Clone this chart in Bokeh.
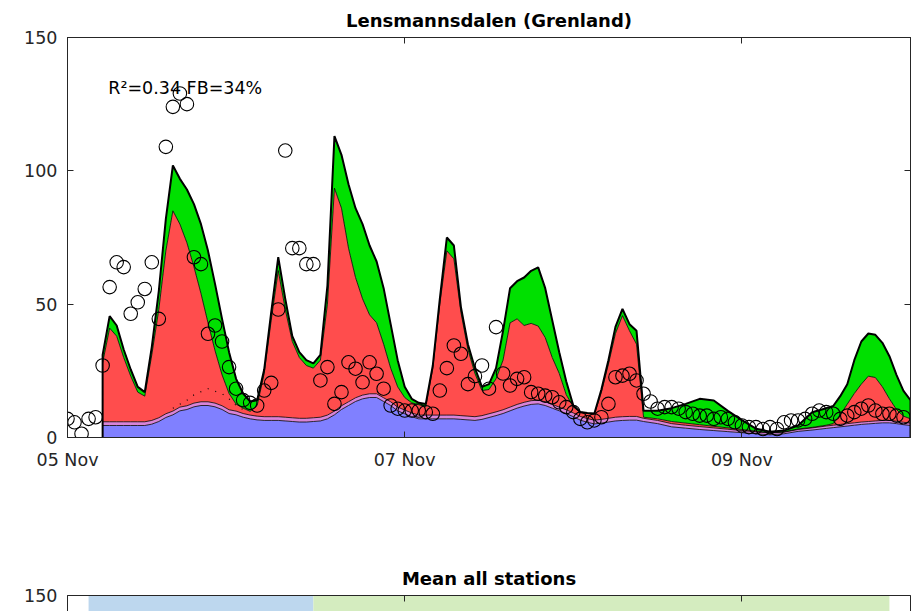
import numpy as np
import pandas as pd
from bokeh.plotting import figure
from bokeh.models import (Range1d, FixedTicker, DatetimeTickFormatter, LinearAxis,
                          DatetimeAxis, Label, ColumnDataSource)
from bokeh.layouts import column
from bokeh.embed import file_html
from bokeh.resources import INLINE

# ---------------- data ----------------
START = "2018-11-05"
tick_dates = ["2018-11-05", "2018-11-07", "2018-11-09"]
y_ticks = [0, 50, 100, 150]

# observations (hourly, hours after 05 Nov 00:00)
obs_hours = list(range(0, 120))
obs_values = [7, 5.7, 1.4, 7, 7.6,
              27, 56.4, 65.7, 63.9, 46.4, 50.7, 55.7, 65.7, 44.5,
              109, 124, 129, 125, 67.6, 65,
              38.9, 42, 36, 26.4, 18.3, 14, 13, 12, 17.6, 20.5,
              48, 107.6, 71, 71, 65, 65, 21.4, 26.4, 12.6, 17,
              28.2, 25.8, 20.7, 28.2, 23.9, 18.3, 12, 10.8, 10.1, 10.1,
              10.1, 9.5, 8.9, 17.6, 26, 34.5, 31.4, 20, 23, 27,
              18.3, 41.4, 24, 19.5, 22, 22.6, 17, 16.4, 15.7, 15.1,
              13.2, 11.4, 9.5, 7, 5.7, 6.4, 7.6, 12.6, 22.6, 23.2,
              23.9, 21.4, 16.4, 13.5, 10.8, 11.4, 11.4, 10.8, 9.5, 8.9,
              8.2, 8.2, 7, 7.6, 7, 5.7, 4.5, 3.9, 3.9, 3.2,
              3.9, 3.2, 5.7, 6.4, 6.4, 7, 8.9, 10.1, 9.5, 8.9,
              7, 8.2, 9.5, 10.8, 12, 10.1, 8.9, 8.9, 8.2, 7.6]

# model (stacked contributions) - boundaries of the stacked layers
model_hours = (list(range(5, 83)) + list(range(84, 109, 2)) + list(range(109, 121)))
blue_top = [4.5, 4.5, 4.5, 4.5, 4.5, 4.5, 4.5,
            5, 6, 7.5, 8.5, 10, 10.5, 11.5, 12, 12,
            11.5, 10.5, 9, 8.5, 7.6, 7, 6.6,
            6.4, 6.4, 6.4, 6.2, 6, 5.8, 5.8, 6, 6.2,
            7, 8.5, 10.5, 12, 13.5, 14.5, 15, 15, 13.5, 12,
            10, 8.9, 7.8, 7, 7, 7, 7, 7, 7, 6.8,
            6.6, 6.4, 6.8, 7.5, 8.2, 9, 10, 11, 11.8, 12.4,
            12.6, 12, 11, 10, 9, 7.8, 6.5, 5.7, 5.1, 5.4,
            5.8, 6.2, 6.4, 6.5, 6.5, 6,
            5.2, 4, 3.5, 3, 2.6, 2.2, 1.8, 1.4, 1, 1.4, 2.3, 2.8, 3.4,
            3.7, 4, 4.3, 4.6, 4.9, 5.1, 5.3, 5.5, 5.5, 5.2, 4.8, 4.5]
pink_top = [5.9, 5.9, 5.9, 5.9, 5.9, 5.9, 5.9,
            6.4, 7.4, 8.9, 9.9, 11.4, 11.9, 12.9, 13.4, 13.4,
            12.9, 11.9, 10.4, 9.9, 9, 8.4, 8,
            7.8, 7.8, 7.8, 7.6, 7.4, 7.2, 7.2, 7.4, 7.6,
            8.4, 9.9, 11.9, 13.4, 14.9, 15.9, 16.4, 16.4, 14.9, 13.4,
            11.4, 10.3, 9.2, 8.4, 8.4, 8.4, 8.4, 8.4, 8.4, 8.2,
            8, 7.8, 8.2, 8.9, 9.6, 10.4, 11.4, 12.4, 13.2, 13.8,
            14, 13.4, 12.4, 11.4, 10.4, 9.2, 7.9, 7.1, 6.5, 6.8,
            7.2, 7.6, 7.8, 7.9, 7.9, 7.2,
            6.4, 5.2, 4.6, 4.1, 3.6, 3.1, 2.6, 2.1, 1.7, 2, 3, 3.6, 4.3,
            4.6, 4.9, 5.2, 5.5, 5.8, 6, 6.2, 6.4, 6.4, 6.1, 5.7, 5.4]
red_top = [28, 41, 38, 30, 23, 17, 15.5,
           31, 48, 70, 85, 80, 73, 64, 54, 43,
           32.6, 23.5, 16.5, 12.5, 11, 9.8, 12,
           24, 44, 62.6, 48, 36, 30, 27, 26, 29,
           50, 93.5, 86, 71, 60, 52, 46, 43, 35, 26,
           19, 15, 13, 12.3, 11.5, 26, 50, 70, 67, 47,
           33, 24, 17.6, 18, 22, 29, 43, 44.5, 42, 42.8,
           41.8, 37.5, 30, 24, 16, 11.5, 9.3, 9, 8.7, 17,
           27.5, 39, 45.7, 40, 35, 7.6,
           7, 6, 5.4, 4.8, 4.2, 3.6, 3, 2.4, 1.8, 2.1, 3.2, 3.8, 4.6,
           5.2, 8.5, 12.5, 16.5, 20, 23, 22.5, 19, 14.5, 10.5, 8, 7]
total_top = [31, 45.5, 42, 33, 25.5, 19, 17,
             34, 55, 82, 102, 97, 93, 87.5, 80, 70,
             57.6, 44.5, 32, 22, 16.5, 13.5, 14,
             25.5, 47, 67.6, 52, 38, 32, 29, 27.8, 31,
             57, 113, 106, 95, 86, 80, 72, 66, 56, 42.5,
             29, 19, 14.5, 13, 12.6, 27, 52, 75, 72, 49,
             35, 26, 19, 20, 26, 40, 56, 58.6, 60, 62.5,
             63.8, 56, 44, 32, 21, 12, 9.6, 9.2, 9, 18,
             29, 41.5, 48.2, 42.5, 40, 10,
             10, 11, 12.6, 14.5, 13.9, 10, 6.5, 3.3, 2.2, 2.6, 4.5, 9.5, 11,
             11.8, 15.5, 20, 29, 36, 39, 38.5, 35.5, 30.5, 23.5, 17.5, 14]

# dotted reference line
dot_hours = [15, 17, 18, 20, 22, 23, 24, 25]
dot_values = [11, 14, 16, 18.3, 16.4, 14.5, 12, 10.5]

# background periods in the lower panel (hours after start)
band_start = [3, 35]
band_end = [35, 117]
band_colors = ["#bdd7ee", "#d4ecbf"]

stats_text = "R\u00b2=0.34 FB=34%"

# ---------------- helpers ----------------
t0 = pd.Timestamp(START)


def to_time(hours):
    return t0 + pd.to_timedelta(np.asarray(hours, dtype=float), unit="h")


def ms(ts):
    return pd.Timestamp(ts).value / 1e6


FONT = "DejaVu Sans"
AX = "#262626"
LBL = "17.5px"

x_range = Range1d(start=t0, end=t0 + pd.Timedelta(days=5))
fmt = DatetimeTickFormatter(days="%d %b", months="%d %b", hours="%d %b",
                            hourmin="%d %b", minutes="%d %b", years="%d %b")
xticker = FixedTicker(ticks=[ms(d) for d in tick_dates])


def style_axis(ax, labels=True, standoff=8):
    ax.axis_line_color = AX
    ax.axis_line_width = 1
    ax.major_tick_line_color = AX
    ax.major_tick_in = 6
    ax.major_tick_out = 0
    ax.minor_tick_line_color = None
    ax.major_label_text_font = FONT
    if labels:
        ax.major_label_text_color = AX
        ax.major_label_text_font_size = LBL
        ax.major_label_standoff = standoff
    else:
        ax.major_label_text_color = None
        ax.major_label_text_font_size = "1px"
        ax.major_label_standoff = 0


def style_title(fig, text):
    fig.title.text = text
    fig.title.align = "center"
    fig.title.text_font = FONT
    fig.title.text_font_style = "bold"
    fig.title.text_font_size = "18px"
    fig.title.text_color = "black"
    fig.title.standoff = 14


# ---------------- top panel ----------------
p = figure(width=913, height=558, x_range=x_range, y_range=Range1d(0, 150),
           x_axis_type="datetime", output_backend="svg", toolbar_location=None,
           min_border_left=67, min_border_right=3, min_border_top=37,
           min_border_bottom=121)
style_title(p, "Lensmannsdalen (Grenland)")
p.xgrid.visible = False
p.ygrid.visible = False
p.outline_line_color = AX
p.background_fill_color = "white"

p.xaxis.ticker = xticker
p.xaxis.formatter = fmt
p.yaxis.ticker = FixedTicker(ticks=y_ticks)
style_axis(p.xaxis[0], True, 12)
style_axis(p.yaxis[0], True, 10)

top_ax = DatetimeAxis(ticker=xticker, formatter=fmt)
style_axis(top_ax, False)
p.add_layout(top_ax, "above")
right_ax = LinearAxis(ticker=FixedTicker(ticks=y_ticks))
style_axis(right_ax, False)
p.add_layout(right_ax, "right")

src = ColumnDataSource(dict(t=to_time(model_hours), zero=np.zeros(len(model_hours)),
                            blue=blue_top, pink=pink_top, red=red_top, total=total_top))
p.varea(x="t", y1="zero", y2="blue", source=src, fill_color="#8080ff")
p.varea(x="t", y1="blue", y2="pink", source=src, fill_color="#d884d8")
p.varea(x="t", y1="pink", y2="red", source=src, fill_color="#ff4d4d")
p.varea(x="t", y1="red", y2="total", source=src, fill_color="#00e000")
for col_name in ["blue", "pink", "red"]:
    p.line(x="t", y=col_name, source=src, line_color="black", line_width=0.8)

# outline of the full stack, including the vertical start/end edges
edge_hours = [model_hours[0]] + model_hours + [model_hours[-1]]
edge_vals = [0] + total_top + [0]
p.line(x=to_time(edge_hours), y=edge_vals, line_color="black", line_width=2)

p.line(x=to_time(dot_hours), y=dot_values, line_color="black", line_width=1.2,
       line_dash="1 7")

p.scatter(x=to_time(obs_hours), y=obs_values, marker="circle", size=13.5,
          fill_color=None, line_color="black", line_width=1.1)

p.add_layout(Label(x=ms(t0 + pd.Timedelta(hours=5.8)), y=131, text=stats_text,
                   text_font=FONT, text_font_size="17.5px", text_color="black",
                   text_baseline="alphabetic"))

# ---------------- bottom panel (top strip only) ----------------
p2 = figure(width=913, height=53, x_range=x_range, y_range=Range1d(144.4, 150),
            x_axis_type="datetime", x_axis_location="above",
            output_backend="svg", toolbar_location=None,
            min_border_left=67, min_border_right=3, min_border_top=36,
            min_border_bottom=0)
style_title(p2, "Mean all stations")
p2.xgrid.visible = False
p2.ygrid.visible = False
p2.outline_line_color = None
p2.xaxis.ticker = xticker
p2.xaxis.formatter = fmt
style_axis(p2.xaxis[0], False)
p2.yaxis.ticker = FixedTicker(ticks=y_ticks)
style_axis(p2.yaxis[0], True, 10)
r2 = LinearAxis(ticker=FixedTicker(ticks=y_ticks))
style_axis(r2, False)
p2.add_layout(r2, "right")
p2.quad(left=to_time(band_start), right=to_time(band_end), bottom=0, top=150,
        fill_color=band_colors, line_color=None)

layout = column(p, p2)
open("out.html", "w").write(file_html(layout, INLINE))
